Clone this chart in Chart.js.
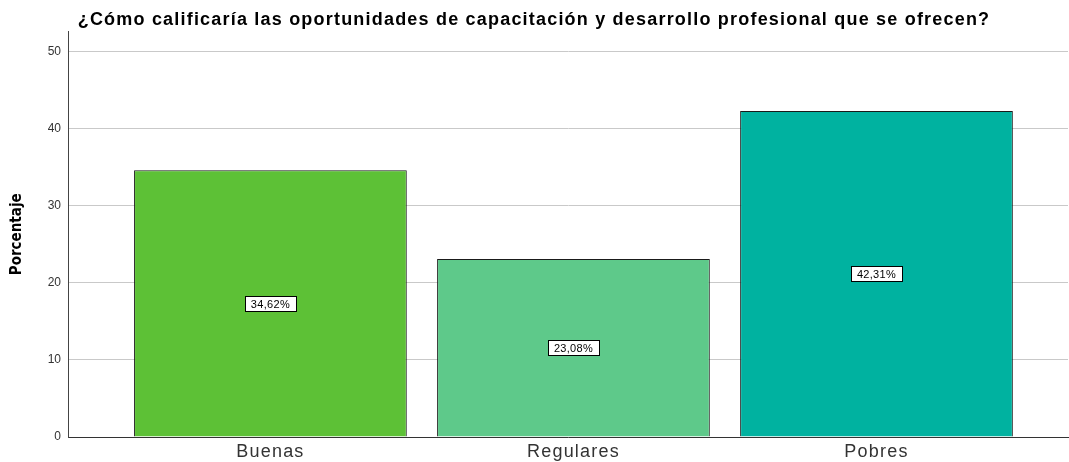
<!DOCTYPE html>
<html>
<head>
<meta charset="utf-8">
<script src="https://cdn.jsdelivr.net/npm/chart.js@4"></script>
<style>
  html, body { margin: 0; padding: 0; background: #fff; }
  #wrap { width: 1069px; height: 462px; }
</style>
</head>
<body>
<div id="wrap"><canvas id="myChart" width="1069" height="462"></canvas></div>
<script>
const categories = ["Buenas", "Regulares", "Pobres"];
const values = [34.62, 23.08, 42.31];
const valueLabels = ["34,62%", "23,08%", "42,31%"];
const barColors = ["#5dc136", "#5ec98a", "#00b2a0"];
const yTicks = [0, 10, 20, 30, 40, 50];

const sans = "'Liberation Sans', Arial, sans-serif";

// wrap a draw function so its text gets some letter spacing (SPSS look)
const spaced = (obj, fn, chart, sp) => {
  if (!obj || obj["_sp_" + fn]) return;
  const orig = obj[fn].bind(obj);
  obj[fn] = (...args) => {
    chart.ctx.save();
    chart.ctx.letterSpacing = sp;
    orig(...args);
    chart.ctx.restore();
  };
  obj["_sp_" + fn] = true;
};

const spacing = {
  id: "spacing",
  afterLayout(chart) {
    spaced(chart.scales.x, "drawLabels", chart, "1.2px");
    spaced(chart.titleBlock, "draw", chart, "1.2px");
  },
};

// white boxed labels in the middle of each bar
const boxLabels = {
  id: "boxLabels",
  afterDatasetsDraw(chart) {
    const ctx = chart.ctx;
    const meta = chart.getDatasetMeta(0);
    ctx.save();
    ctx.letterSpacing = "0.3px";
    ctx.font = "11px " + sans;
    ctx.textAlign = "center";
    ctx.textBaseline = "middle";
    meta.data.forEach((bar, i) => {
      const cx = bar.x;
      const cy = (bar.y + bar.base) / 2;
      const w = Math.round(ctx.measureText(valueLabels[i]).width + 12);
      const h = 15;
      const x0 = Math.round(cx - w / 2) + 0.5;
      const y0 = Math.round(cy - h / 2) + 0.5;
      ctx.fillStyle = "#fff";
      ctx.fillRect(x0, y0, w, h);
      ctx.strokeStyle = "#000";
      ctx.lineWidth = 1;
      ctx.strokeRect(x0, y0, w, h);
      ctx.fillStyle = "#000";
      ctx.fillText(valueLabels[i], cx, y0 + h / 2 + 0.5);
    });
    ctx.restore();
  },
};

const ctx = document.getElementById("myChart").getContext("2d");
const myChart = new Chart(ctx, {
  type: "bar",
  data: {
    datasets: [
      {
        data: values.map((v, i) => ({ x: i, y: v })),
        backgroundColor: barColors,
        borderColor: "#1a1a1a",
        borderWidth: 1,
        barPercentage: 0.9,
        categoryPercentage: 1,
      },
    ],
  },
  options: {
    responsive: false,
    animation: false,
    layout: { padding: { left: 0, right: 1, top: 0, bottom: 0 } },
    plugins: {
      legend: { display: false },
      tooltip: { enabled: false },
      title: {
        display: true,
        text: "¿Cómo calificaría las oportunidades de capacitación y desarrollo profesional que se ofrecen?",
        color: "#000",
        font: { family: sans, size: 18, weight: "bold" },
        padding: { top: 9, bottom: 1 },
      },
    },
    scales: {
      x: {
        type: "linear",
        offset: false,
        min: -0.668,
        max: 2.632,
        grid: { display: false, drawTicks: false },
        border: { display: true, color: "#333", width: 1 },
        afterBuildTicks: (scale) => {
          scale.ticks = categories.map((c, i) => ({ value: i }));
        },
        afterFit: (scale) => {
          scale.height = 25;
        },
        ticks: {
          padding: 4,
          color: "#333",
          font: { family: sans, size: 18 },
          callback: (v) => categories[v],
        },
      },
      y: {
        min: 0,
        max: 52.6,
        grid: { color: "#c9c9c9", drawTicks: false },
        border: { display: true, color: "#444", width: 1 },
        afterBuildTicks: (scale) => {
          scale.ticks = yTicks.map((v) => ({ value: v }));
        },
        afterFit: (scale) => {
          scale.width = 68;
        },
        ticks: {
          padding: 7,
          color: "#333",
          font: { family: sans, size: 12 },
        },
        title: {
          display: true,
          text: "Porcentaje",
          color: "#000",
          font: { family: "'DejaVu Sans Condensed', 'Liberation Sans', sans-serif", size: 15, weight: "bold" },
          padding: { top: 8, bottom: 0 },
        },
      },
    },
  },
  plugins: [spacing, boxLabels],
});
</script>
</body>
</html>
